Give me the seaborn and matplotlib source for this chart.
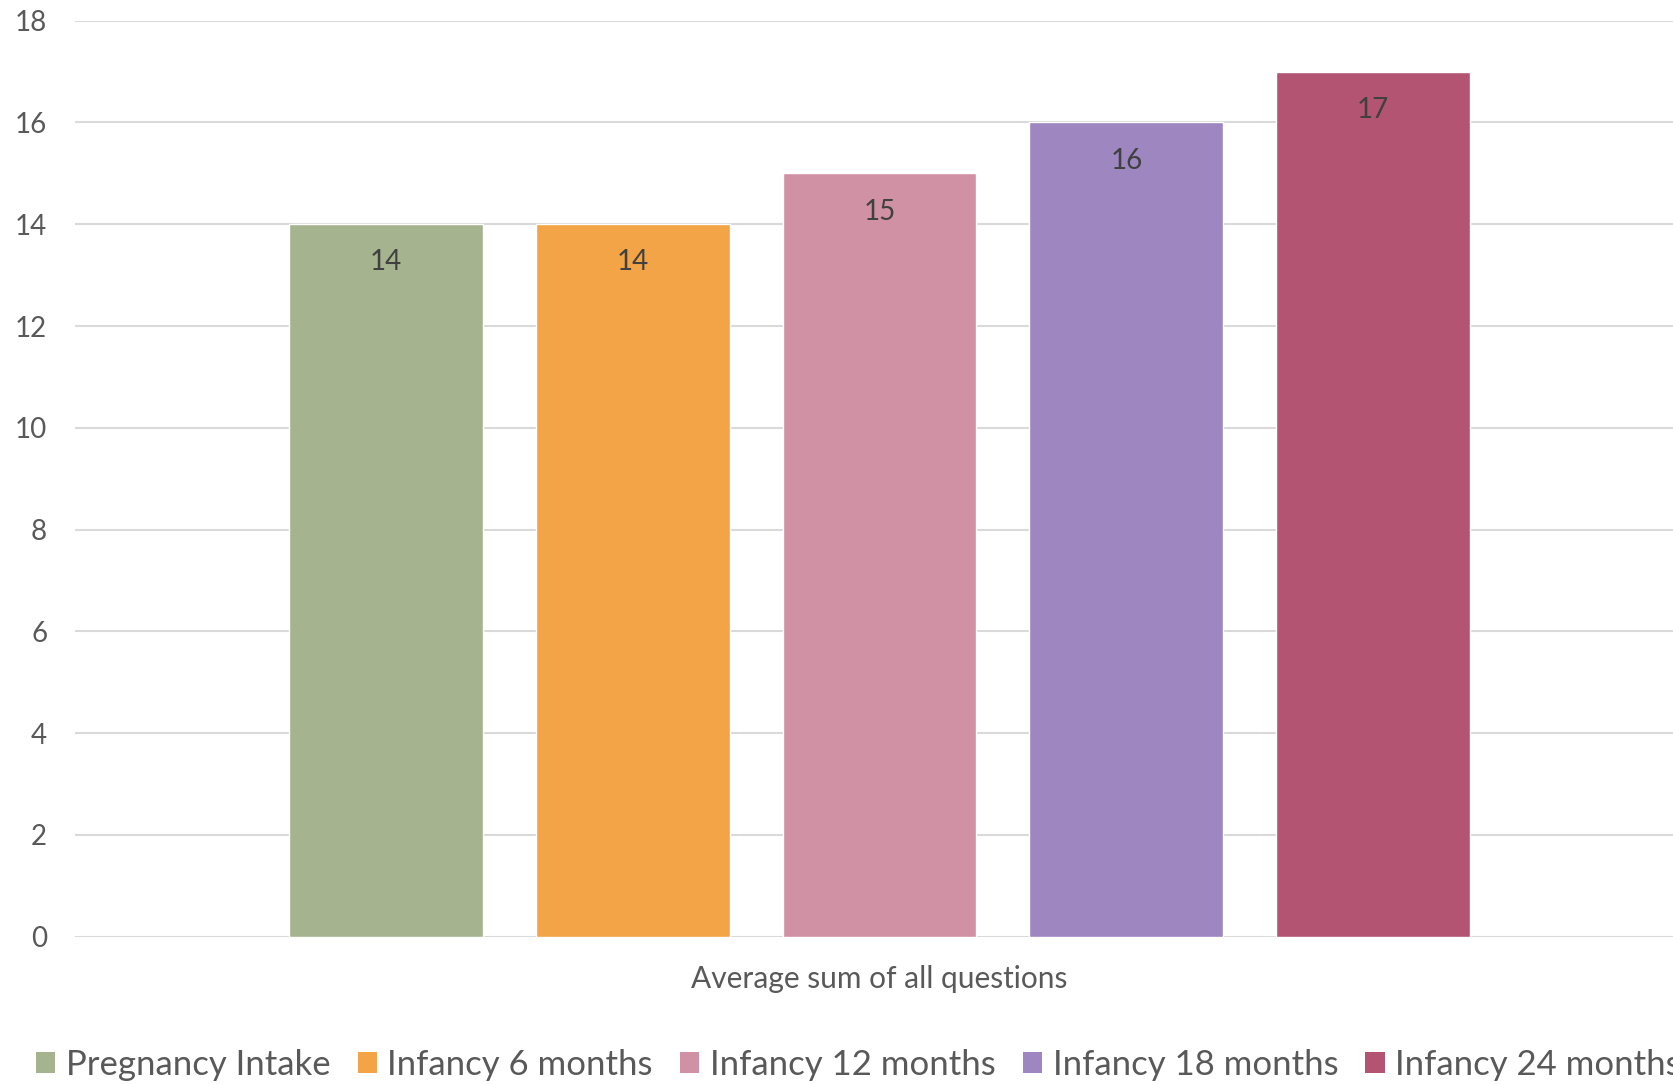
import matplotlib
matplotlib.use("Agg")
import matplotlib.pyplot as plt
from matplotlib.patches import Patch
import seaborn as sns
import pandas as pd

categories = ["Pregnancy Intake", "Infancy 6 months", "Infancy 12 months",
              "Infancy 18 months", "Infancy 24 months"]
values = [14, 14, 15, 16, 17]
colors = ["#A6B38F", "#F2A446", "#D191A5", "#9E86C1", "#B45473"]
y_ticks = [0, 2, 4, 6, 8, 10, 12, 14, 16, 18]
x_title = "Average sum of all questions"

sns.set_theme(style="white")
plt.rcParams["font.family"] = ["Lato", "DejaVu Sans"]

df = pd.DataFrame({"category": categories, "value": values})

W, H = 1673, 1084
fig = plt.figure(figsize=(W / 100, H / 100), dpi=100)
ax = fig.add_axes([75 / W, 147.3 / H, 1 - 75 / W, (936.7 - 20.7) / H])

sns.barplot(data=df, x="category", y="value", hue="category",
            palette=colors, order=categories, hue_order=categories,
            width=0.785, saturation=1, legend=False, ax=ax, zorder=3)

ax.set_ylim(0, 18)
ax.set_xlim(-1.26, 5.215)
ax.set_yticks(y_ticks)
ax.set_yticklabels([str(t) for t in y_ticks])
ax.yaxis.grid(True, color="#D9D9D9", linewidth=1.5, zorder=0)
ax.set_axisbelow(True)
for s in ax.spines.values():
    s.set_visible(False)
ax.tick_params(axis="y", length=0, pad=20, labelsize=20, labelcolor="#595959")
ax.set_xticks([])
ax.set_xlabel("")
ax.set_ylabel("")

for i, v in enumerate(values):
    ax.annotate(str(v), xy=(i, v), xytext=(0, -27.5), textcoords="offset points",
                ha="center", va="center", fontsize=20, color="#404040")

fig.text((75 + 1683) / 2 / W, 1 - 979 / H, x_title, ha="center", va="center",
         fontsize=21.5, color="#595959")

handles = [Patch(facecolor=c, edgecolor="none") for c in colors]
fig.legend(handles, categories, loc="center left",
           bbox_to_anchor=(36 / W, 1 - 1065 / H), ncol=5, frameon=False,
           fontsize=25, labelcolor="#595959", handlelength=0.56,
           handleheight=0.56, handletextpad=0.3, columnspacing=0.78,
           borderpad=0, borderaxespad=0)

fig.savefig("out.png", dpi=100)
